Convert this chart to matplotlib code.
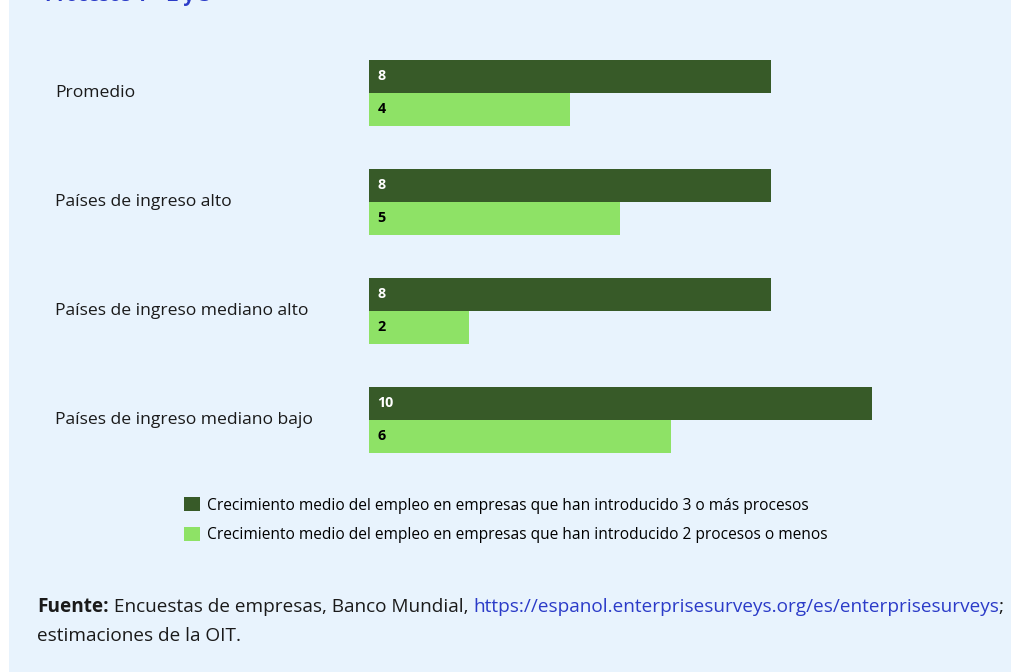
import matplotlib.pyplot as plt
from matplotlib.patches import Rectangle, Patch

categorias = ["Promedio", "Países de ingreso alto", "Países de ingreso mediano alto",
              "Países de ingreso mediano bajo"]
tres_o_mas = [8, 8, 8, 10]
dos_o_menos = [4, 5, 2, 6]
series = ["Crecimiento medio del empleo en empresas que han introducido 3 o más procesos",
          "Crecimiento medio del empleo en empresas que han introducido 2 procesos o menos"]

oscuro = "#375a28"
claro = "#8ee266"
fondo = "#e8f3fd"
azul = "#2b3bc8"

plt.rcParams['font.family'] = ['Open Sans', 'DejaVu Sans']

W, H = 1012, 672
fig = plt.figure(figsize=(W / 100, H / 100), dpi=100)
fig.patch.set_facecolor("white")
fig.patches.append(Rectangle((9 / W, 0), 1, 1, transform=fig.transFigure,
                             facecolor=fondo, edgecolor="none", zorder=-10))

# axes in pixel terms: bars start at x=369, 50.25 px per unit
x0, x1 = 369, 369 + 50.25 * 12
ytop, ybot = 40, 470
ax = fig.add_axes([x0 / W, 1 - ybot / H, (x1 - x0) / W, (ybot - ytop) / H])
ax.set_facecolor("none")
paso = 109.0
ax.set_xlim(0, 12)
ax.set_ylim((ybot - 93) / paso, (ytop - 93) / paso)

alto = 33 / paso
pos = list(range(len(categorias)))
b1 = ax.barh([p - alto / 2 for p in pos], tres_o_mas, height=alto, color=oscuro)
b2 = ax.barh([p + alto / 2 for p in pos], dos_o_menos, height=alto, color=claro)

for p, v in zip(pos, tres_o_mas):
    ax.text(0.17, p - alto / 2, str(v), color="white", fontsize=10.3, fontweight="bold",
            va="center", ha="left")
for p, v in zip(pos, dos_o_menos):
    ax.text(0.17, p + alto / 2, str(v), color="black", fontsize=10.3, fontweight="bold",
            va="center", ha="left")

for p, c in zip(pos, categorias):
    fig.text(55 / W, 1 - (93 + paso * p) / H, c, fontsize=12.6, va="center", ha="left",
             color="#1a1a1a")

ax.axis("off")

handles = [Patch(facecolor=oscuro), Patch(facecolor=claro)]
fig.legend(handles, series, loc="upper left", bbox_to_anchor=(184 / W, 1 - 497 / H),
           frameon=False, fontsize=11.2, handlelength=1.05, handleheight=1.05,
           handletextpad=0.45, labelspacing=0.85, borderaxespad=0, borderpad=0)

# title cut at the top edge
fig.text(45 / W, 1 + 4 / H, "Procesos 1 – 2 y 3", fontsize=14, fontweight="bold",
         color=azul, va="center", ha="left")

# source note
r = fig.canvas.get_renderer()
y1 = 1 - 607 / H
y2 = 1 - 636 / H
fs = 13.65
t = fig.text(37 / W, y1, "Fuente:", fontsize=fs, fontweight="bold", va="center",
             color="#1a1a1a")
x = t.get_window_extent(r).x1 / W
t = fig.text(x, y1, " Encuestas de empresas, Banco Mundial, ", fontsize=fs, va="center",
             color="#1a1a1a")
x = t.get_window_extent(r).x1 / W
t = fig.text(x, y1, "https://espanol.enterprisesurveys.org/es/enterprisesurveys", fontsize=fs,
             va="center", color=azul)
x = t.get_window_extent(r).x1 / W
fig.text(x, y1, ";", fontsize=fs, va="center", color="#1a1a1a")
fig.text(37 / W, y2, "estimaciones de la OIT.", fontsize=fs, va="center", color="#1a1a1a")

fig.savefig("out.png", dpi=100, facecolor=fig.get_facecolor())
